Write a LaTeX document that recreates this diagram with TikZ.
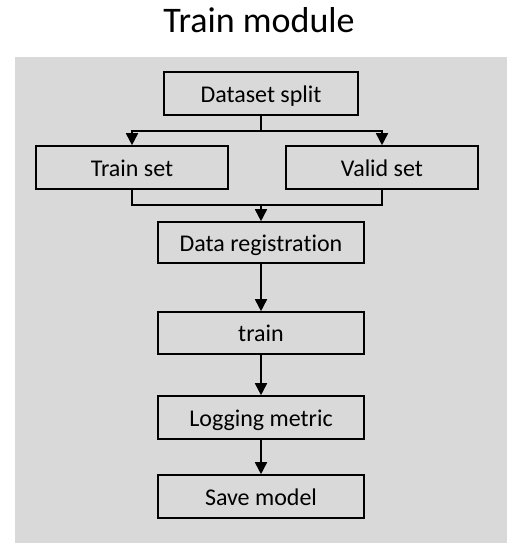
\documentclass[tikz,border=0pt]{standalone}
\usepackage{fontspec}
\setmainfont[Ligatures=NoCommon]{Carlito}
\usetikzlibrary{arrows.meta}
\definecolor{panelgrey}{HTML}{D9D9D9}
\begin{document}
\begin{tikzpicture}[x=1pt,y=-1pt,
  stepbox/.style={draw=black,line width=1.6pt,fill=panelgrey,minimum height=43pt,inner sep=0pt,text height=18pt,text depth=1pt,font=\fontsize{24}{28}\selectfont},
  conn/.style={line width=1.6pt,draw=black},
  arr/.style={conn,-{Triangle[length=12pt,width=12pt]}}]
\useasboundingbox (0,0) rectangle (522,555);
\fill[white] (0,0) rectangle (522,555);
\fill[panelgrey] (15,57) rectangle (507,543);
\node[font=\fontsize{36}{40}\selectfont,anchor=base] (title) at (259,32) {Train module};
\node[stepbox,minimum width=194pt] (split) at (261,93.5) {Dataset split};
\node[stepbox,minimum width=192pt] (trainset) at (132,167.5) {Train set};
\node[stepbox,minimum width=192pt] (validset) at (382,167.5) {Valid set};
\node[stepbox,minimum width=206pt,minimum height=41pt] (reg) at (261,242.5) {Data registration};
\node[stepbox,minimum width=206pt,minimum height=42pt] (train) at (261,333) {train};
\node[stepbox,minimum width=206pt] (log) at (261,417.5) {Logging metric};
\node[stepbox,minimum width=206pt] (save) at (261,496.5) {Save model};
\coordinate (sj) at (261,131);
\coordinate (mj) at (261,205);
\draw[conn] (split.south) -- (sj);
\draw[arr] (sj) -| (trainset.north);
\draw[arr] (sj) -| (validset.north);
\draw[conn] (trainset.south) |- (mj);
\draw[conn] (validset.south) |- (mj);
\draw[arr] (mj) -- (reg.north);
\draw[arr] (reg.south) -- (train.north);
\draw[arr] (train.south) -- (log.north);
\draw[arr] (log.south) -- (save.north);
\end{tikzpicture}
\end{document}
